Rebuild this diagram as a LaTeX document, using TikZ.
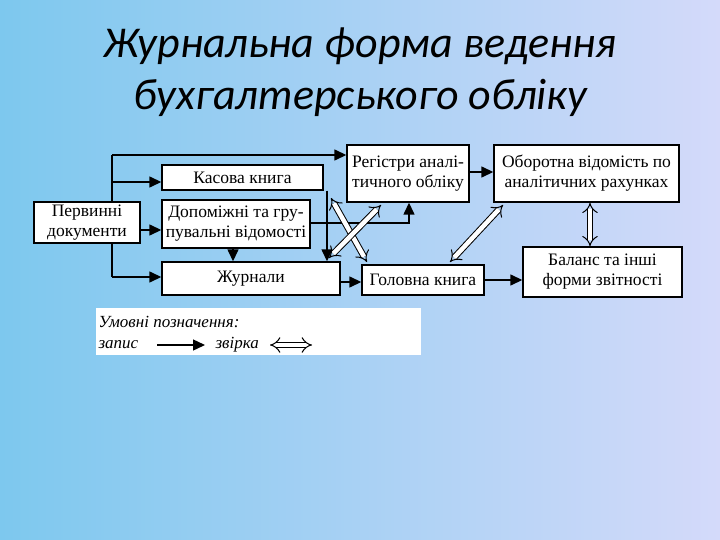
\documentclass[tikz,border=0pt]{standalone}
\usepackage{fontspec}
\setmainfont{Liberation Serif}
\newfontfamily\titlefont{Carlito}
\usetikzlibrary{arrows.meta}
\definecolor{bgleft}{RGB}{125,200,238}
\definecolor{bgright}{RGB}{212,218,250}
\tikzset{
  blk/.style={draw=black,fill=white,line width=1.4pt,inner sep=0pt,align=center,
    font=\fontsize{17.5}{20}\selectfont},
  zap/.style={line width=1.4pt,-{Triangle[length=12pt,width=11pt]}},
  zvirka/.style={draw=black,double=white,double distance=4.5pt,line width=1pt,
    {Implies[]}-{Implies[]}},
}
\begin{document}
\begin{tikzpicture}[x=1pt,y=-1pt]
\shade[left color=bgleft,right color=bgright] (0,0) rectangle (720,540);
\useasboundingbox (0,0) rectangle (720,540);
% title
\node[font=\titlefont\itshape\fontsize{44}{50}\selectfont] (t1) at (360,46) {Журнальна форма ведення};
\node[font=\titlefont\itshape\fontsize{44}{50}\selectfont] (t2) at (360,98) {бухгалтерського обліку};
% trunk
\coordinate (tr1) at (112,155);
\coordinate (tr2) at (112,277);
\draw[line width=1.4pt] (tr1) -- (tr2);
% boxes
\node[blk,minimum width=106,minimum height=41] (perv) at (87,222.5) {Первинні\\документи};
\node[blk,minimum width=161,minimum height=25] (kas) at (242.5,177.5) {Касова книга};
\node[blk,minimum width=148,minimum height=48] (dop) at (236,224) {Допоміжні та гру-\\пувальні відомості};
\node[blk,minimum width=178,minimum height=33] (zhur) at (251,278.5) {Журнали};
\node[blk,minimum width=122,minimum height=57] (reg) at (408,173.5) {Регістри аналі-\\тичного обліку};
\node[blk,minimum width=185,minimum height=57] (obor) at (586.5,173.5) {Оборотна відомість по\\аналітичних рахунках};
\node[blk,minimum width=122,minimum height=30] (gol) at (423,280) {Головна книга};
\node[blk,minimum width=159,minimum height=50] (bal) at (602.5,272) {Баланс та інші\\форми звітності};
% zapys
\draw[zap] (tr1) -- (reg.west |- tr1);
\draw[zap] (112,182) -- (kas.west |- 0,182);
\draw[zap] (perv.east |- 0,230) -- (dop.west |- 0,230);
\draw[zap] (tr2) -- (zhur.west |- tr2);
\draw[zap] (kas.south -| 327,0) -- (zhur.north -| 327,0);
\draw[zap] (dop.south -| 233,0) -- (zhur.north -| 233,0);
\draw[zap] (dop.east |- 0,223) -| (reg.south -| 409,0);
\draw[zap] (zhur.east |- 0,282) -- (gol.west |- 0,282);
\draw[zap] (gol.east |- 0,280) -- (bal.west |- 0,280);
\draw[zap] (reg.east |- 0,172) -- (obor.west |- 0,172);
% zvirka
\draw[zvirka] (obor.south -| 590,0) -- (bal.north -| 590,0);
\draw[zvirka] (331,198) -- (367,262);
\draw[zvirka] (381,205) -- (329,258);
\draw[zvirka] (450,262) -- (503,205);
% legend
\fill[white] (96,308) rectangle (421,355);
\node[anchor=west,font=\itshape\fontsize{17}{19}\selectfont] (leg) at (95,322) {Умовні позначення:};
\node[anchor=west,font=\itshape\fontsize{17}{19}\selectfont] (zp) at (95,345) {запис};
\coordinate (za1) at (157,345);
\coordinate (za2) at (205,345);
\draw[zap] (za1) -- (za2);
\node[anchor=west,font=\itshape\fontsize{17}{19}\selectfont] (zv) at (212,345) {звірка};
\coordinate (zv1) at (270,345);
\coordinate (zv2) at (312,345);
\draw[zvirka] (zv1) -- (zv2);
\end{tikzpicture}
\end{document}
